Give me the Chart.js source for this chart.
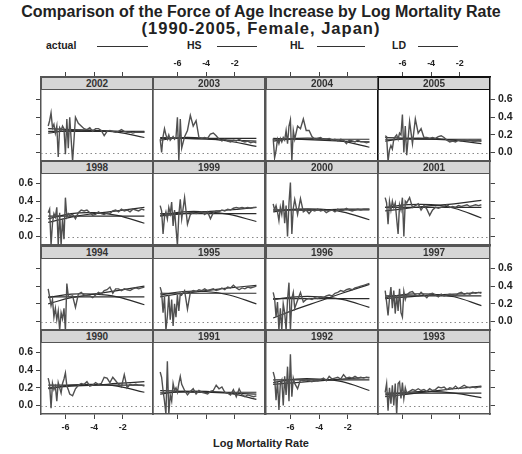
<!DOCTYPE html>
<html>
<head>
<meta charset="utf-8">
<script src="https://cdn.jsdelivr.net/npm/chart.js@4.4.0/dist/chart.umd.min.js"></script>
<style>
  body { margin: 0; background: #fff; font-family: "Liberation Sans", Arial, sans-serif; }
  #wrap { position: relative; width: 522px; height: 454px; overflow: hidden; }
  .txt { position: absolute; white-space: nowrap; color: #222; font-weight: bold; }
  .title { left: 0; width: 522px; text-align: center; }
  .lgline { position: absolute; height: 0; border-top: 1px solid #333; }
  .strip { position: absolute; box-sizing: border-box; height: 13px; background: #d6d6d6;
           border: 1px solid #555; text-align: center; font-weight: bold; font-size: 10px;
           line-height: 11px; color: #333; z-index: 2; }
  canvas { position: absolute; }
</style>
</head>
<body>
<div id="wrap">
  <div class="txt title" style="top:3px;font-size:16px">Comparison of the Force of Age Increase by Log Mortality Rate</div>
  <div class="txt title" style="top:19px;font-size:16.5px;letter-spacing:1px">(1990-2005, Female, Japan)</div>
  <div class="txt" style="left:46px;top:39px;font-size:10.5px">actual</div>
  <div class="lgline" style="left:97px;top:46px;width:51px"></div>
  <div class="txt" style="left:187px;top:39px;font-size:10.5px">HS</div>
  <div class="lgline" style="left:217px;top:46px;width:40px"></div>
  <div class="txt" style="left:290px;top:39px;font-size:10.5px">HL</div>
  <div class="lgline" style="left:317px;top:46px;width:48px"></div>
  <div class="txt" style="left:392px;top:39px;font-size:10.5px">LD</div>
  <div class="lgline" style="left:418px;top:46px;width:40px"></div>
  <div class="txt" style="left:0;width:522px;text-align:center;top:437px;font-size:11px">Log Mortality Rate</div>
</div>
<script>
// log mortality rate (x) where the actual force of age increase is observed
const logMx = [-7.2, -7.1, -7.0, -6.9, -6.8, -6.7, -6.6, -6.5, -6.4, -6.3, -6.2, -6.1, -6.0, -5.9, -5.8, -5.7,
  -5.5, -5.3, -5.1, -4.9, -4.7, -4.5, -4.3, -4.1, -3.9, -3.7, -3.5, -3.3, -3.1, -2.9, -2.7, -2.5,
  -2.3, -2.1, -1.9, -1.7, -1.5, -1.3, -1.1, -0.9, -0.7, -0.5];
// x positions for the fitted curves
const fitX = [-7.2, -5.6, -4.0, -2.4, -0.5];

const years = [1990, 1991, 1992, 1993, 1994, 1995, 1996, 1997, 1998, 1999, 2000, 2001, 2002, 2003, 2004, 2005];

const actual1990 = [0.31, 0.24, -0.03, 0.25, 0.18, 0.22, 0.05, 0.26, 0.20, 0.14, 0.25, 0.30, 0.37, 0.22, 0.18, 0.13,
  0.11, 0.19, 0.23, 0.25, 0.24, 0.27, 0.22, 0.23, 0.26, 0.24, 0.25, 0.32, 0.31, 0.26, 0.32, 0.28,
  0.24, 0.21, 0.35, 0.20, 0.24, 0.23, 0.24, 0.23, 0.23, 0.22];
const actual1991 = [0.38, 0.32, 0.17, 0.05, -0.10, 0.50, -0.10, 0.12, 0.05, 0.25, 0.17, 0.20, 0.15, 0.25, 0.33, 0.24,
  0.17, 0.12, 0.16, 0.19, 0.13, 0.17, 0.15, 0.14, 0.13, 0.16, 0.17, 0.23, 0.19, 0.21, 0.15, 0.14,
  0.12, 0.18, 0.10, 0.19, 0.12, 0.10, 0.12, 0.11, 0.10, 0.11];
const actual1992 = [0.38, 0.32, 0.06, 0.28, -0.05, 0.25, 0.29, 0.00, 0.33, 0.12, 0.44, 0.05, 0.58, 0.10, 0.31, 0.25,
  0.19, 0.29, 0.28, 0.29, 0.28, 0.27, 0.29, 0.28, 0.29, 0.31, 0.28, 0.33, 0.30, 0.31, 0.32, 0.30,
  0.35, 0.31, 0.32, 0.31, 0.33, 0.31, 0.32, 0.31, 0.32, 0.31];
const actual1993 = [0.15, 0.25, -0.06, 0.20, 0.02, 0.23, 0.00, 0.25, -0.10, 0.25, 0.27, 0.08, 0.26, 0.08, 0.20, 0.14,
  0.16, 0.18, 0.17, 0.19, 0.17, 0.18, 0.16, 0.19, 0.17, 0.18, 0.21, 0.20, 0.21, 0.18, 0.20, 0.19,
  0.22, 0.19, 0.21, 0.23, 0.21, 0.20, 0.21, 0.20, 0.21, 0.21];
const actual1994 = [0.37, 0.28, 0.18, 0.25, 0.05, 0.15, 0.02, 0.12, -0.10, 0.10, 0.03, 0.15, -0.10, 0.43, 0.29, 0.28,
  0.29, 0.16, 0.31, 0.33, 0.30, 0.29, 0.29, 0.27, 0.30, 0.33, 0.31, 0.35, 0.36, 0.39, 0.32, 0.37,
  0.37, 0.35, 0.37, 0.36, 0.35, 0.37, 0.38, 0.37, 0.38, 0.39];
const actual1995 = [0.39, 0.33, 0.10, 0.28, -0.10, 0.06, 0.30, 0.02, 0.25, -0.05, 0.20, 0.05, 0.30, 0.12, 0.32, 0.30,
  0.35, 0.14, 0.33, 0.35, 0.34, 0.36, 0.35, 0.37, 0.35, 0.36, 0.37, 0.35, 0.36, 0.38, 0.36, 0.39,
  0.38, 0.41, 0.38, 0.36, 0.38, 0.37, 0.39, 0.38, 0.39, 0.40];
const actual1996 = [0.33, 0.26, 0.05, 0.22, -0.10, 0.15, -0.10, 0.20, 0.10, -0.10, 0.25, 0.44, -0.10, 0.26, 0.33, 0.15,
  0.24, 0.33, 0.22, 0.25, 0.26, 0.25, 0.27, 0.26, 0.28, 0.27, 0.29, 0.30, 0.29, 0.32, 0.33, 0.35,
  0.34, 0.36, 0.37, 0.36, 0.38, 0.39, 0.40, 0.41, 0.42, 0.43];
const actual1997 = [0.35, 0.22, 0.07, 0.26, 0.39, 0.15, 0.35, 0.09, 0.30, 0.12, 0.37, 0.10, 0.05, 0.34, 0.25, 0.30,
  0.33, 0.34, 0.30, 0.29, 0.33, 0.30, 0.27, 0.31, 0.32, 0.30, 0.28, 0.31, 0.29, 0.30, 0.31, 0.30,
  0.29, 0.32, 0.33, 0.31, 0.32, 0.31, 0.33, 0.32, 0.33, 0.32];
const actual1998 = [0.27, 0.31, -0.10, 0.15, 0.26, 0.22, 0.33, -0.10, 0.27, -0.10, 0.20, -0.03, 0.44, 0.22, 0.26, 0.24,
  0.25, 0.20, 0.27, 0.30, 0.29, 0.30, 0.27, 0.24, 0.25, 0.28, 0.26, 0.25, 0.27, 0.26, 0.29, 0.30,
  0.28, 0.31, 0.29, 0.30, 0.28, 0.31, 0.30, 0.29, 0.31, 0.30];
const actual1999 = [0.35, 0.29, 0.03, 0.22, 0.28, 0.20, 0.33, 0.26, 0.39, 0.12, 0.30, 0.10, -0.10, 0.25, 0.42, 0.20,
  0.44, 0.14, 0.25, 0.27, 0.26, 0.27, 0.28, 0.25, 0.28, 0.20, 0.27, 0.29, 0.28, 0.30, 0.29, 0.31,
  0.30, 0.32, 0.33, 0.32, 0.33, 0.32, 0.33, 0.32, 0.33, 0.33];
const actual2000 = [0.37, 0.30, 0.35, 0.28, 0.18, 0.33, 0.25, 0.41, 0.15, 0.35, 0.00, 0.38, 0.61, 0.03, 0.32, 0.42,
  0.25, 0.43, 0.28, 0.30, 0.26, 0.30, 0.29, 0.31, 0.29, 0.30, 0.27, 0.29, 0.30, 0.28, 0.31, 0.29,
  0.30, 0.32, 0.30, 0.29, 0.30, 0.31, 0.30, 0.31, 0.31, 0.31];
const actual2001 = [0.44, 0.38, 0.14, 0.40, 0.30, 0.40, 0.33, 0.38, 0.20, 0.03, 0.36, 0.30, 0.44, 0.00, 0.40, 0.38,
  0.44, 0.33, 0.35, 0.37, 0.30, 0.35, 0.31, 0.24, 0.30, 0.33, 0.32, 0.33, 0.34, 0.36, 0.33, 0.34,
  0.33, 0.35, 0.34, 0.35, 0.36, 0.34, 0.35, 0.36, 0.35, 0.36];
const actual2002 = [0.30, 0.36, 0.45, 0.28, 0.32, 0.22, 0.30, -0.05, 0.28, 0.25, 0.30, 0.27, -0.02, 0.38, 0.05, 0.40,
  -0.10, 0.40, 0.33, 0.30, 0.27, 0.26, 0.28, 0.24, 0.27, 0.27, 0.25, 0.19, 0.24, 0.25, 0.24, 0.23,
  0.24, 0.26, 0.24, 0.23, 0.23, 0.22, 0.23, 0.23, 0.23, 0.23];
const actual2003 = [0.15, 0.00, 0.18, 0.27, 0.20, 0.15, 0.20, 0.14, 0.16, 0.18, 0.15, 0.17, 0.40, -0.10, 0.38, 0.05,
  0.18, 0.25, 0.42, 0.30, 0.36, 0.17, 0.16, 0.17, 0.16, 0.21, 0.22, 0.19, 0.15, 0.13, 0.15, 0.13,
  0.12, 0.14, 0.13, 0.15, 0.13, 0.12, 0.13, 0.11, 0.12, 0.11];
const actual2004 = [0.16, -0.06, 0.02, 0.15, 0.10, 0.16, 0.12, 0.17, 0.14, 0.25, 0.10, 0.30, 0.37, -0.10, 0.25, 0.15,
  0.30, 0.27, 0.38, 0.25, 0.25, 0.18, 0.15, 0.16, 0.17, 0.15, 0.15, 0.16, 0.14, 0.15, 0.13, 0.15,
  0.14, 0.10, 0.14, 0.13, 0.12, 0.14, 0.12, 0.12, 0.11, 0.12];
const actual2005 = [0.19, 0.18, -0.10, 0.03, 0.08, 0.04, 0.15, 0.18, 0.20, 0.15, 0.22, 0.20, 0.43, 0.00, 0.30, -0.03,
  0.35, 0.10, 0.38, 0.22, 0.27, 0.17, 0.17, 0.16, 0.17, 0.16, 0.18, 0.19, 0.17, 0.14, 0.12, 0.13,
  0.12, 0.14, 0.13, 0.14, 0.13, 0.14, 0.13, 0.13, 0.14, 0.13];

// fitted models, same order as years
const hsLevel = [0.23, 0.15, 0.29, 0.14, 0.28, 0.32, 0.26, 0.29, 0.23, 0.26, 0.30, 0.33, 0.24, 0.16, 0.15, 0.15];
const hlFit = [
  [0.20, 0.22, 0.23, 0.25, 0.27], [0.17, 0.16, 0.15, 0.14, 0.13], [0.24, 0.26, 0.28, 0.30, 0.32], [0.10, 0.13, 0.16, 0.19, 0.22],
  [0.20, 0.27, 0.31, 0.35, 0.40], [0.28, 0.32, 0.35, 0.38, 0.41], [0.04, 0.14, 0.23, 0.32, 0.42], [0.26, 0.28, 0.30, 0.31, 0.33],
  [0.16, 0.22, 0.26, 0.29, 0.33], [0.23, 0.26, 0.28, 0.30, 0.33], [0.30, 0.30, 0.30, 0.31, 0.31], [0.29, 0.32, 0.35, 0.37, 0.41],
  [0.27, 0.26, 0.25, 0.24, 0.23], [0.17, 0.16, 0.15, 0.14, 0.13], [0.16, 0.15, 0.14, 0.13, 0.12], [0.17, 0.16, 0.15, 0.14, 0.13]
];
const ldFit = [
  [0.19, 0.23, 0.24, 0.22, 0.15], [0.13, 0.16, 0.16, 0.14, 0.07], [0.26, 0.30, 0.30, 0.27, 0.17], [0.12, 0.15, 0.16, 0.14, 0.09],
  [0.27, 0.31, 0.31, 0.28, 0.19], [0.30, 0.34, 0.34, 0.30, 0.20], [0.25, 0.28, 0.28, 0.25, 0.16], [0.27, 0.31, 0.31, 0.28, 0.18],
  [0.20, 0.26, 0.27, 0.24, 0.15], [0.24, 0.28, 0.28, 0.25, 0.17], [0.28, 0.31, 0.31, 0.28, 0.19], [0.33, 0.36, 0.36, 0.32, 0.21],
  [0.22, 0.25, 0.25, 0.23, 0.17], [0.14, 0.17, 0.16, 0.13, 0.07], [0.13, 0.16, 0.16, 0.13, 0.06], [0.13, 0.16, 0.16, 0.14, 0.10]
];

const xTicks = [-6, -4, -2];
const yTicks = [0, 0.2, 0.4, 0.6];

const actualByYear = {
  1990: actual1990, 1991: actual1991, 1992: actual1992, 1993: actual1993,
  1994: actual1994, 1995: actual1995, 1996: actual1996, 1997: actual1997,
  1998: actual1998, 1999: actual1999, 2000: actual2000, 2001: actual2001,
  2002: actual2002, 2003: actual2003, 2004: actual2004, 2005: actual2005
};

// lattice layout, top row first
const layoutRows = [[2002, 2003, 2004, 2005], [1998, 1999, 2000, 2001], [1994, 1995, 1996, 1997], [1990, 1991, 1992, 1993]];
const PW = 112, PH = 84, ML = 36, MR = 36, MT = 26, MB = 30;

const zeroLine = {
  id: 'zeroLine',
  beforeDatasetsDraw(chart) {
    const { ctx, chartArea: a, scales: { y } } = chart;
    const py = Math.round(y.getPixelForValue(0)) + 0.5;
    ctx.save();
    ctx.strokeStyle = '#888';
    ctx.lineWidth = 1;
    ctx.setLineDash([1.5, 3]);
    ctx.beginPath();
    ctx.moveTo(a.left, py);
    ctx.lineTo(a.right, py);
    ctx.stroke();
    ctx.restore();
  }
};

const wrap = document.getElementById('wrap');
const xFont = { family: 'Liberation Sans', weight: 'bold', size: 9 };
const yFont = { family: 'Liberation Sans', weight: 'bold', size: 10.5 };

layoutRows.forEach((row, r) => {
  row.forEach((yr, c) => {
    const k = years.indexOf(yr);
    const left = Math.round(41 + c * 112.3);
    const top = Math.round(77 + r * 84.3);
    const dark = yr === 2005;

    const cv = document.createElement('canvas');
    cv.width = PW + ML + MR;
    cv.height = PH + MT + MB;
    cv.style.left = (left - ML) + 'px';
    cv.style.top = (top - MT) + 'px';
    wrap.appendChild(cv);

    const strip = document.createElement('div');
    strip.className = 'strip';
    strip.style.left = left + 'px';
    strip.style.top = top + 'px';
    strip.style.width = PW + 'px';
    if (dark) strip.style.borderColor = '#111';
    strip.textContent = yr;
    wrap.appendChild(strip);

    const border = { display: true, color: dark ? '#111' : '#555', width: 1.5 };
    const xAxis = (pos, show, labels) => ({
      type: 'linear', position: pos, min: -7.7, max: 0.1,
      afterBuildTicks: s => { s.ticks = xTicks.map(v => ({ value: v })); },
      afterFit: s => { s.height = pos === 'top' ? MT : MB; },
      grid: { display: show, drawOnChartArea: false, tickLength: 5, color: '#444' },
      ticks: { display: labels, font: xFont, color: '#222', padding: 3, maxRotation: 0,
               callback: v => String(v) },
      border
    });
    const yAxis = (pos, show, labels) => ({
      type: 'linear', position: pos, min: -0.096, max: 0.855,
      afterBuildTicks: s => { s.ticks = yTicks.map(v => ({ value: v })); },
      afterFit: s => { s.width = pos === 'left' ? ML : MR; },
      grid: { display: show, drawOnChartArea: false, tickLength: 5, color: '#444' },
      ticks: { display: labels, font: yFont, color: '#222', padding: 3,
               callback: v => v.toFixed(1) },
      border
    });

    const fitLine = vals => ({
      data: fitX.map((x, i) => ({ x, y: vals[i] })),
      borderColor: '#2b2b2b', borderWidth: 1.2, pointRadius: 0, tension: 0.4
    });

    new Chart(cv, {
      type: 'line',
      data: {
        datasets: [
          { data: logMx.map((x, i) => ({ x, y: actualByYear[yr][i] })),
            borderColor: '#505050', borderWidth: 1.4, pointRadius: 0 },
          fitLine(fitX.map(() => hsLevel[k])),
          fitLine(hlFit[k]),
          fitLine(ldFit[k])
        ]
      },
      options: {
        responsive: false,
        devicePixelRatio: 1,
        animation: false,
        layout: { padding: 0 },
        plugins: { legend: { display: false }, tooltip: { enabled: false } },
        scales: {
          x: xAxis('bottom', r === 3, r === 3 && c % 2 === 0),
          x2: xAxis('top', r === 0, r === 0 && c % 2 === 1),
          y: yAxis('left', c === 0, c === 0 && r % 2 === 1),
          y2: yAxis('right', c === 3, c === 3 && r % 2 === 0)
        }
      },
      plugins: [zeroLine]
    });
  });
});
</script>
</body>
</html>
